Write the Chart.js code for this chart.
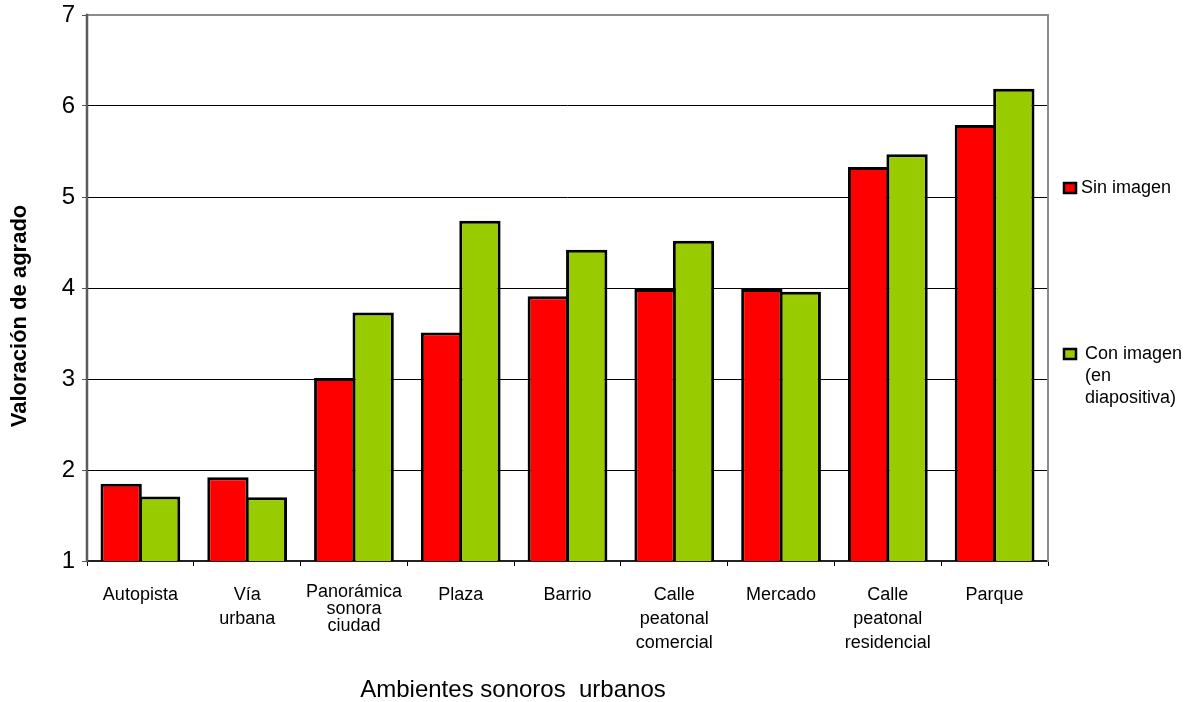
<!DOCTYPE html>
<html>
<head>
<meta charset="utf-8">
<script src="https://cdn.jsdelivr.net/npm/chart.js@4/dist/chart.umd.min.js"></script>
<style>
  html, body { margin: 0; padding: 0; background: #fff; }
  #wrap { width: 1186px; height: 702px; position: relative; }
</style>
</head>
<body>
<div id="wrap"><canvas id="c" width="1186" height="702"></canvas></div>
<script>
// Categories (multi-line labels)
const categories = [
  ['Autopista'],
  ['Vía', 'urbana'],
  ['Panorámica', 'sonora', 'ciudad'],
  ['Plaza'],
  ['Barrio'],
  ['Calle', 'peatonal', 'comercial'],
  ['Mercado'],
  ['Calle', 'peatonal', 'residencial'],
  ['Parque']
];

// Mean rating per soundscape
const sinImagen = [1.85, 1.92, 3.01, 3.51, 3.91, 3.99, 3.99, 5.33, 5.79];
const conImagen = [1.71, 1.70, 3.73, 4.74, 4.42, 4.52, 3.96, 5.47, 6.19];

const seriesNames = [['Sin imagen'], ['Con imagen', '(en', 'diapositiva)']];
const seriesColors = ['#FF0000', '#99CC00'];

const yTicks = [1, 2, 3, 4, 5, 6, 7];
const xTitle = 'Ambientes sonoros  urbanos';
const yTitle = 'Valoración de agrado';

const FONT = '"Liberation Sans", Arial, sans-serif';

// Plot frame: grey top/right, darker left
const framePlugin = {
  id: 'frame',
  afterDatasetsDraw(chart) {
    const { ctx, chartArea: a } = chart;
    ctx.save();
    ctx.lineCap = 'square';
    ctx.strokeStyle = '#8c8c8c';
    ctx.lineWidth = 2;
    ctx.beginPath();
    ctx.moveTo(a.left, a.top);
    ctx.lineTo(a.right, a.top);
    ctx.lineTo(a.right, a.bottom);
    ctx.stroke();
    ctx.strokeStyle = '#5a5a5a';
    ctx.lineWidth = 2.5;
    ctx.beginPath();
    ctx.moveTo(a.left, a.top);
    ctx.lineTo(a.left, a.bottom);
    ctx.stroke();
    ctx.restore();
  }
};

// Axis titles and side legend
const textPlugin = {
  id: 'texts',
  afterDraw(chart) {
    const { ctx } = chart;
    ctx.save();
    ctx.fillStyle = '#000';
    ctx.textBaseline = 'middle';
    ctx.textAlign = 'center';
    ctx.font = '24px ' + FONT;
    ctx.fillText(xTitle, 513, 690);

    ctx.save();
    ctx.translate(20, 316);
    ctx.rotate(-Math.PI / 2);
    ctx.font = 'bold 22px ' + FONT;
    ctx.fillText(yTitle, 0, 0);
    ctx.restore();

    // legend entries
    const entryY = [188, 354];
    ctx.textAlign = 'left';
    ctx.font = '18px ' + FONT;
    chart.data.datasets.forEach((ds, i) => {
      const y = entryY[i];
      ctx.fillStyle = ds.backgroundColor;
      ctx.fillRect(1064, y - 5, 12, 10);
      ctx.strokeStyle = '#000';
      ctx.lineWidth = 2.5;
      ctx.strokeRect(1064, y - 5, 12, 10);
      ctx.fillStyle = '#000';
      const lines = seriesNames[i];
      lines.forEach((t, k) => {
        ctx.fillText(t, i === 0 ? 1081 : 1085, y + k * 22);
      });
    });
    ctx.restore();
  }
};

new Chart(document.getElementById('c'), {
  type: 'bar',
  data: {
    labels: categories,
    datasets: [
      {
        label: seriesNames[0].join(' '),
        data: sinImagen,
        backgroundColor: seriesColors[0],
        borderColor: '#000',
        borderWidth: 3,
        borderSkipped: false
      },
      {
        label: seriesNames[1].join(' '),
        data: conImagen,
        backgroundColor: seriesColors[1],
        borderColor: '#000',
        borderWidth: 3,
        borderSkipped: false
      }
    ]
  },
  options: {
    responsive: false,
    animation: false,
    layout: { padding: { top: 15, right: 138, left: 0, bottom: 0 } },
    datasets: { bar: { categoryPercentage: 0.72, barPercentage: 1.075 } },
    plugins: {
      legend: { display: false },
      tooltip: { enabled: false },
      title: { display: false }
    },
    scales: {
      x: {
        grid: {
          offset: true,
          drawOnChartArea: false,
          drawTicks: true,
          tickLength: 5,
          color: '#000',
          lineWidth: 1
        },
        border: { display: true, color: '#222', width: 2 },
        ticks: {
          color: '#000',
          // the three-line "Panorámica" label is set tighter than the others
          font: (c) => ({ family: FONT, size: 18, lineHeight: c.index === 2 ? 0.95 : 1.333 }),
          padding: 17,
          maxRotation: 0,
          autoSkip: false
        },
        afterFit(scale) { scale.height = 141; }
      },
      y: {
        min: yTicks[0],
        max: yTicks[yTicks.length - 1],
        afterBuildTicks(scale) { scale.ticks = yTicks.map(v => ({ value: v })); },
        grid: {
          color: (c) => (c.tick && c.tick.value === 7 ? 'rgba(0,0,0,0)' : '#000'),
          tickColor: '#555',
          lineWidth: 1,
          tickLength: 5
        },
        border: { display: false },
        ticks: {
          color: '#000',
          font: { family: FONT, size: 24, lineHeight: 0.6 },
          padding: 7
        },
        afterFit(scale) { scale.width = 87; }
      }
    }
  },
  plugins: [framePlugin, textPlugin]
});
</script>
</body>
</html>
